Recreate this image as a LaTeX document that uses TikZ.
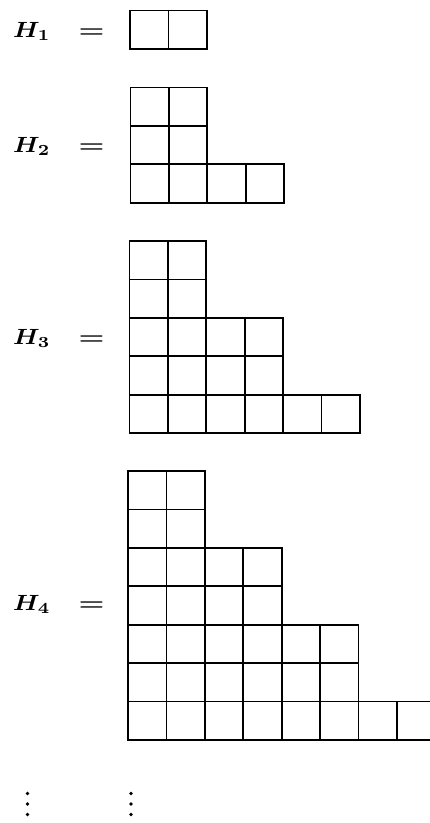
\documentclass[tikz,border=0pt]{standalone}
\usepackage{graphicx}
\begin{document}
\begin{tikzpicture}[x=1pt,y=-1pt,
  cell/.style={draw, line width=1.8pt, minimum size=38.4pt, inner sep=0pt},
  lab/.style={inner sep=0pt},
  vdot/.style={circle, fill, inner sep=0pt, minimum size=3.8pt}]
\clip (0,0) rectangle (430,823);
\def\s{38.4}
\foreach \n/\xo/\t/\bl/\rows in {1/130/10.5/37/{2}, 2/130.5/87.5/152/{2,2,4}, 3/129.5/241/344/{2,2,4,4,6}, 4/128/471/610/{2,2,4,4,6,6,8}}{
  \foreach \w [count=\r] in \rows {
    \foreach \c in {1,...,\w} {
      \node[cell] (h\n-\r-\c) at ({\xo+(\c-0.5)*\s},{\t+(\r-0.5)*\s}) {};
    }
  }
  \node[lab, anchor=base west] (H\n) at (13,\bl) {\scalebox{2.5}[2.2]{\boldmath$H_{\n}$}};
  \node[lab, anchor=base] (eq\n) at (91.5,\bl) {\scalebox{2.9}[2.2]{\boldmath$=$}};
}
\foreach \y [count=\i] in {793.5,804,814.5}{
  \node[vdot] (la\i) at (27.5,\y) {};
  \node[vdot] (ra\i) at (131,\y) {};
}
\end{tikzpicture}
\end{document}
